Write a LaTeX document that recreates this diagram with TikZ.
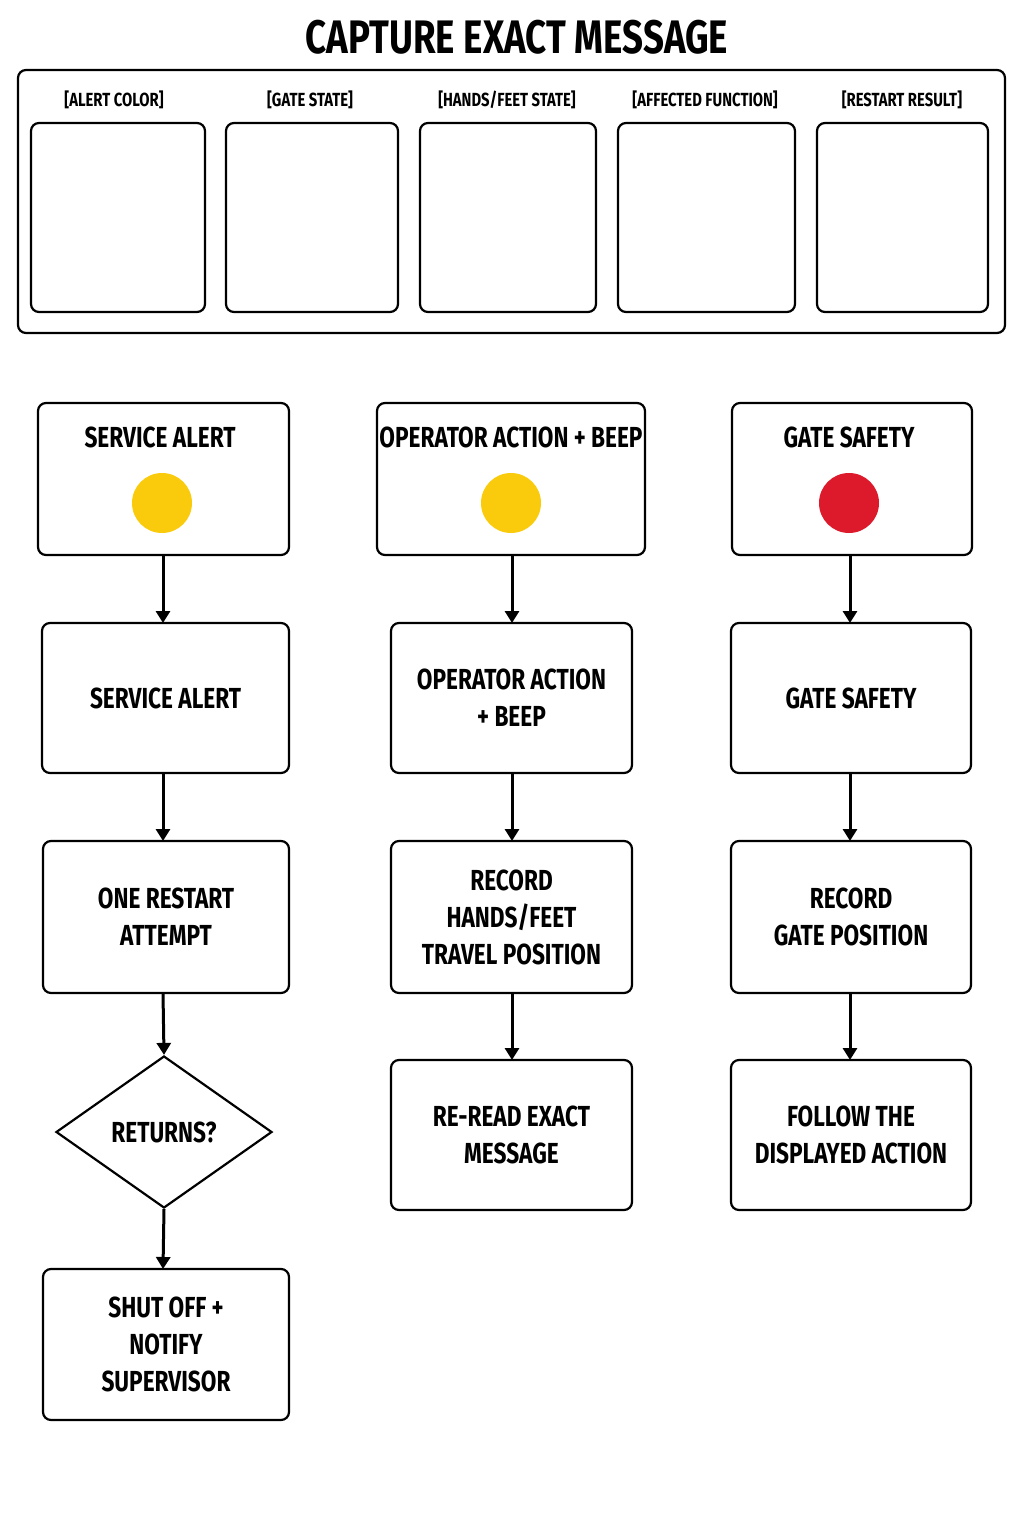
\documentclass[tikz,border=0pt]{standalone}
\usepackage{fontspec}
\setmainfont{Fira Sans}[FakeStretch=0.78]
\usetikzlibrary{arrows.meta,shapes.geometric}
\definecolor{yel}{HTML}{F9CB0C}
\definecolor{rd}{HTML}{DC1A2B}
\begin{document}
\begin{tikzpicture}[x=1pt,y=-1pt,
  bx/.style={draw,line width=2.2pt,rounded corners=8pt},
  txt/.style={font=\fontsize{29}{37}\selectfont\bfseries,align=center},
  lab/.style={font=\fontsize{19}{22}\selectfont\bfseries},
  arr/.style={line width=3pt,-{Triangle[length=12pt,width=14pt]}}]
\useasboundingbox (0,0) rectangle (1024,1536);
\node[font=\fontsize{47}{50}\selectfont\bfseries] (title) at (517,37) {CAPTURE EXACT MESSAGE};
\draw[bx] (18,70) rectangle (1005,333);
\foreach \a/\b/\c/\t [count=\i] in {31/205/114/{[ALERT COLOR]},226/398/310/{[GATE STATE]},420/596/507/{[HANDS/FEET STATE]},618/795/705/{[AFFECTED FUNCTION]},817/988/902/{[RESTART RESULT]}}{
  \node[lab] (l\i) at (\c,100) {\t};
  \draw[bx] (\a,123) rectangle (\b,312);
}
% row 1
\node[bx,minimum width=251pt,minimum height=152pt] (a1) at (163.5,479) {};
\node[txt] (a1t) at (160,437) {SERVICE ALERT};
\fill[yel] (162,503) circle (30pt);
\node[bx,minimum width=268pt,minimum height=152pt] (b1) at (511,479) {};
\node[txt] (b1t) at (511,437) {OPERATOR ACTION + BEEP};
\fill[yel] (511,503) circle (30pt);
\node[bx,minimum width=240pt,minimum height=152pt] (c1) at (852,479) {};
\node[txt] (c1t) at (849,437) {GATE SAFETY};
\fill[rd] (849,503) circle (30pt);
% row 2
\node[bx,txt,minimum width=247pt,minimum height=150pt] (a2) at (165.5,698) {SERVICE ALERT};
\node[bx,txt,minimum width=241pt,minimum height=150pt] (b2) at (511.5,698) {OPERATOR ACTION\\+ BEEP};
\node[bx,txt,minimum width=240pt,minimum height=150pt] (c2) at (851,698) {GATE SAFETY};
% row 3
\node[bx,txt,minimum width=246pt,minimum height=152pt] (a3) at (166,917) {ONE RESTART\\ATTEMPT};
\node[bx,txt,minimum width=241pt,minimum height=152pt] (b3) at (511.5,917) {RECORD\\HANDS/FEET\\TRAVEL POSITION};
\node[bx,txt,minimum width=240pt,minimum height=152pt] (c3) at (851,917) {RECORD\\GATE POSITION};
% row 4
\node[draw,line width=2.2pt,diamond,aspect=1.42,minimum width=216pt,minimum height=152pt,inner sep=0pt,txt] (a4) at (164,1132) {RETURNS?};
\node[bx,txt,minimum width=241pt,minimum height=150pt] (b4) at (511.5,1135) {RE-READ EXACT\\MESSAGE};
\node[bx,txt,minimum width=240pt,minimum height=150pt] (c4) at (851,1135) {FOLLOW THE\\DISPLAYED ACTION};
% row 5
\node[bx,txt,minimum width=246pt,minimum height=151pt] (a5) at (166,1344.5) {SHUT OFF +\\NOTIFY\\SUPERVISOR};
% arrows
\draw[arr] (163,555) -- (163,623);
\draw[arr] (a2.south -| 163,0) -- (163,841);
\draw[arr] (163,993) -- (a4.north);
\draw[arr] (a4.south) -- (163,1269);
\draw[arr] (512,555) -- (512,623);
\draw[arr] (512,773) -- (512,841);
\draw[arr] (512,993) -- (512,1060);
\draw[arr] (850,555) -- (850,623);
\draw[arr] (850,773) -- (850,841);
\draw[arr] (850,993) -- (850,1060);
\end{tikzpicture}
\end{document}
